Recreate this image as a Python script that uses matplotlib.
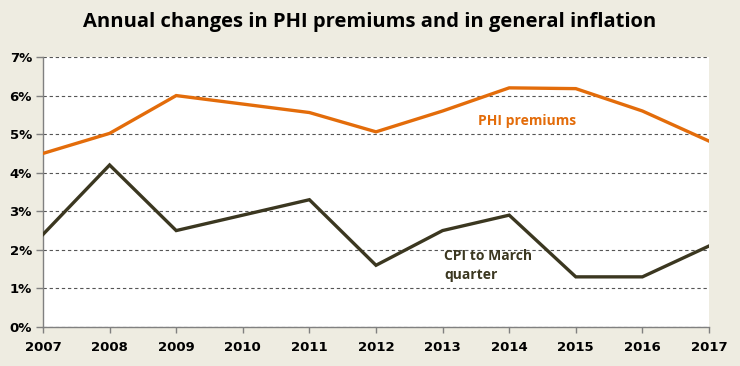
import matplotlib
matplotlib.use("Agg")
import matplotlib.pyplot as plt
from matplotlib.ticker import FuncFormatter

years = [2007, 2008, 2009, 2010, 2011, 2012, 2013, 2014, 2015, 2016, 2017]
phi = [4.5, 5.02, 6.0, 5.78, 5.56, 5.06, 5.6, 6.2, 6.18, 5.6, 4.82]
cpi = [2.4, 4.2, 2.5, 2.9, 3.3, 1.6, 2.5, 2.9, 1.3, 1.3, 2.1]
yticks = [0, 1, 2, 3, 4, 5, 6, 7]

bg = "#EEECE1"
orange = "#E36C0A"
dark = "#3B3720"

fig = plt.figure(figsize=(7.4, 3.66), dpi=100, facecolor=bg)
ax = fig.add_axes([43/740, 1-327/366, (709-43)/740, (327-57)/366])
ax.set_facecolor("white")

ax.plot(years, phi, color=orange, lw=2.4, solid_joinstyle="miter", zorder=3)
ax.plot(years, cpi, color=dark, lw=2.4, solid_joinstyle="miter", zorder=3)

ax.set_xlim(2007, 2017)
ax.set_ylim(0, 7)
ax.set_xticks(years)
ax.set_yticks(yticks)
ax.yaxis.set_major_formatter(FuncFormatter(lambda v, p: f"{int(v)}%"))
ax.grid(axis="y", color="#555555", ls=(0, (3, 2.5)), lw=0.8)
for s in ["top", "right"]:
    ax.spines[s].set_visible(False)
for s in ["left", "bottom"]:
    ax.spines[s].set_color("#808080")
    ax.spines[s].set_linewidth(1.0)
ax.tick_params(axis="both", colors="#808080", length=4, width=1, labelcolor="black")
ax.tick_params(axis="x", pad=6)
ax.tick_params(axis="y", pad=3, length=5)
for lab in ax.get_xticklabels() + ax.get_yticklabels():
    lab.set_fontfamily("DejaVu Sans")
    lab.set_fontweight("bold")
    lab.set_fontsize(9.5)

ax.text(2013.53, 5.34, "PHI premiums", color=orange, fontsize=10,
        fontweight="bold", family="Open Sans", ha="left", va="center")
ax.text(2013.02, 1.6, "CPI to March\nquarter", color=dark, fontsize=10,
        fontweight="bold", family="Open Sans", ha="left", va="center",
        linespacing=1.5)

fig.text(0.5, 1-22/366, "Annual changes in PHI premiums and in general inflation",
         ha="center", va="center", fontsize=14.5, fontweight="bold",
         family="Open Sans", color="black")

fig.savefig("out.png", dpi=100, facecolor=bg)
